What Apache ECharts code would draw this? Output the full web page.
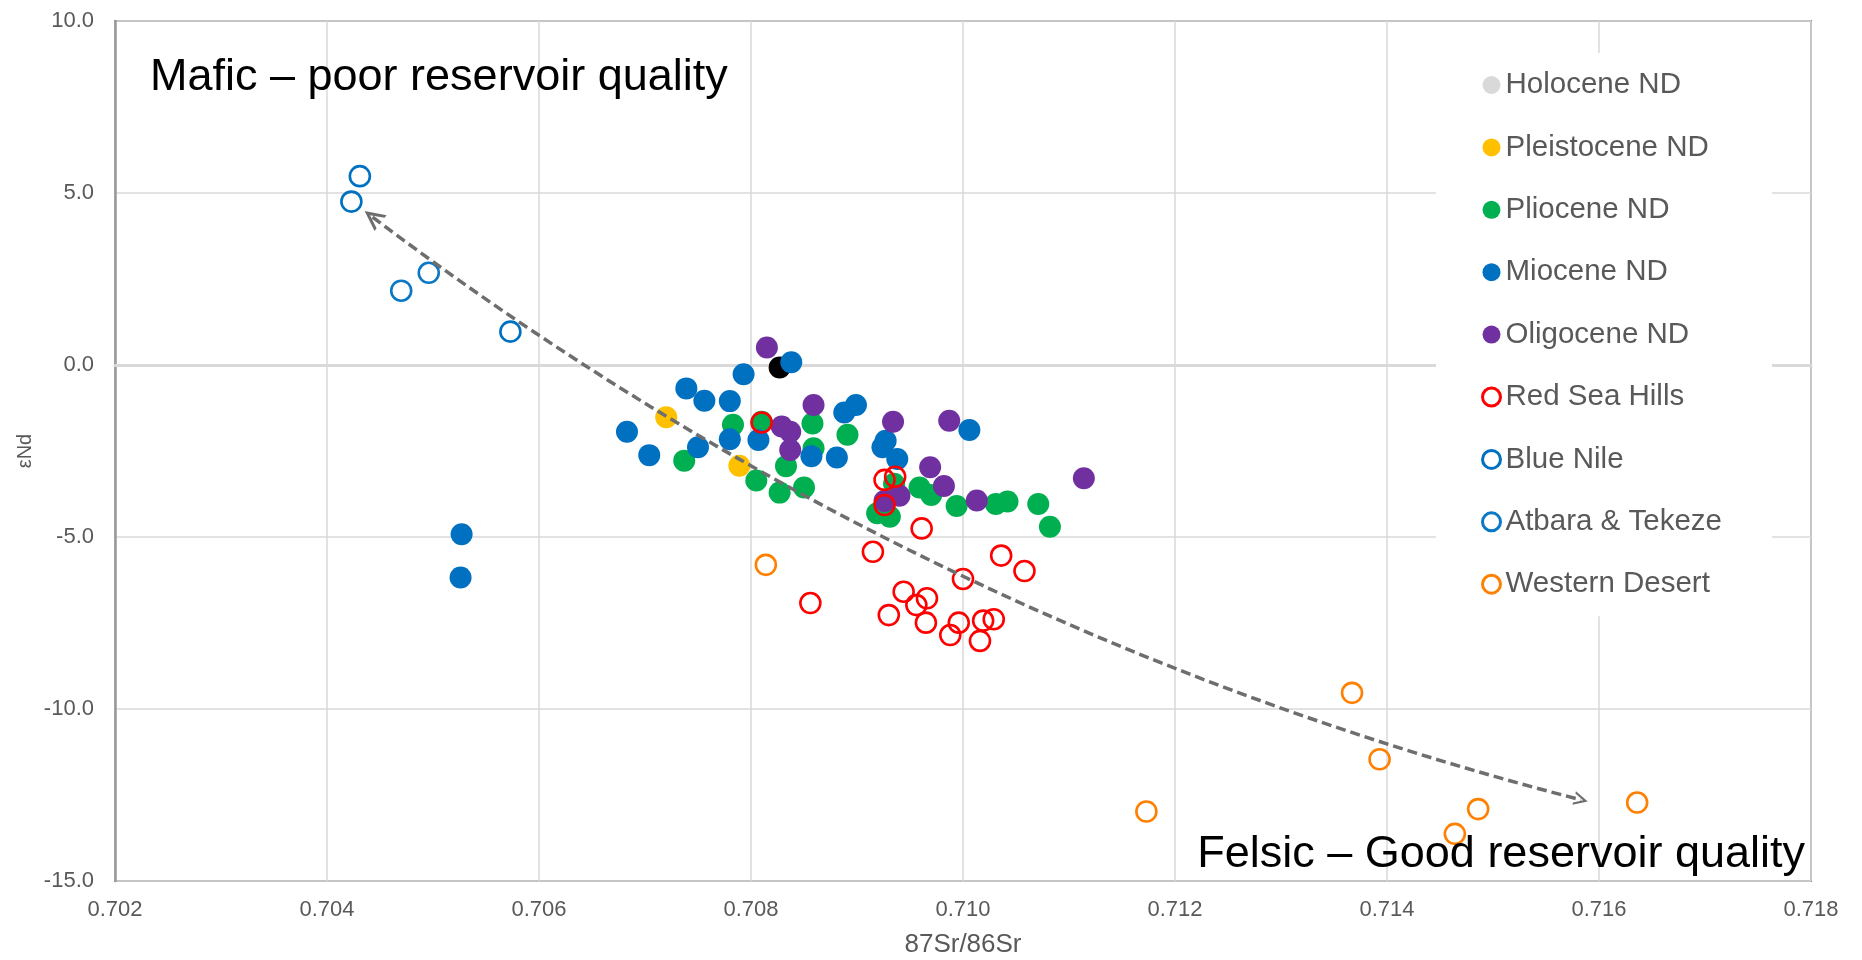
<!DOCTYPE html>
<html>
<head>
<meta charset="utf-8">
<script src="https://cdn.jsdelivr.net/npm/echarts@6/dist/echarts.min.js"></script>
<style>
html,body{margin:0;padding:0;background:#ffffff;}
#chart{width:1862px;height:960px;}
</style>
</head>
<body>
<div id="chart"></div>
<script>
// ---- tick labels ----
const xTickLabels = ['0.702','0.704','0.706','0.708','0.710','0.712','0.714','0.716','0.718'];
const yTickLabels = ['-15.0','-10.0','-5.0','0.0','5.0','10.0'];

// ---- series names ----
const seriesNames = ['Holocene ND','Pleistocene ND','Pliocene ND','Miocene ND','Oligocene ND','Red Sea Hills','Blue Nile','Atbara & Tekeze','Western Desert'];

// ---- data: [87Sr/86Sr, eNd] ----
const holoceneND = [[0.70827,-0.07]];
const pleistoceneND = [[0.70720,-1.52],[0.70789,-2.93]];
const plioceneND = [
  [0.70810,-1.65],[0.70783,-1.74],[0.70737,-2.78],[0.70805,-3.36],[0.70827,-3.71],
  [0.70850,-3.56],[0.70833,-2.94],[0.70858,-1.70],[0.70859,-2.42],[0.70891,-2.03],
  [0.70959,-3.56],[0.70970,-3.78],[0.70994,-4.10],[0.71031,-4.04],[0.71042,-3.97],
  [0.71071,-4.04],[0.71082,-4.70],[0.70919,-4.31],[0.70931,-4.41],[0.70935,-3.45]
];
const mioceneND = [
  [0.70838,0.08],[0.70793,-0.27],[0.70739,-0.68],[0.70756,-1.04],[0.70780,-1.05],
  [0.70683,-1.94],[0.70704,-2.62],[0.70750,-2.39],[0.70780,-2.16],[0.70807,-2.18],
  [0.70857,-2.65],[0.70881,-2.69],[0.70888,-1.38],[0.70899,-1.16],[0.70927,-2.20],
  [0.70924,-2.39],[0.70938,-2.73],[0.71006,-1.89],[0.70527,-4.92],[0.70526,-6.18]
];
const oligoceneND = [
  [0.70815,0.51],[0.70829,-1.79],[0.70837,-1.94],[0.70837,-2.47],[0.70859,-1.16],
  [0.70934,-1.65],[0.70987,-1.62],[0.70969,-2.97],[0.70982,-3.52],[0.71013,-3.94],
  [0.71114,-3.29],[0.70926,-3.95],[0.70940,-3.80]
];
const redSeaHills = [
  [0.70810,-1.67],[0.70926,-3.34],[0.70936,-3.25],[0.70926,-4.07],[0.70961,-4.75],
  [0.70915,-5.43],[0.71000,-6.22],[0.71036,-5.54],[0.71058,-5.99],[0.70944,-6.59],
  [0.70966,-6.78],[0.70956,-6.98],[0.70930,-7.27],[0.70965,-7.49],[0.70996,-7.49],
  [0.70988,-7.85],[0.71019,-7.43],[0.71029,-7.39],[0.71016,-8.02],[0.70856,-6.92]
];
const blueNile = [[0.70431,5.49],[0.70423,4.75],[0.70573,0.97]];
const atbaraTekeze = [[0.70496,2.68],[0.70470,2.16]];
const westernDesert = [
  [0.70814,-5.81],[0.71367,-9.53],[0.71393,-11.46],[0.71173,-12.98],
  [0.71636,-12.72],[0.71486,-12.91],[0.71464,-13.63]
];

// ---- trend arrow (start, end) ----
const trendArrow = [[0.70443,4.30],[0.71583,-12.64]];

// ---- annotation texts ----
const mafic = 'Mafic \u2013 poor reservoir quality';
const felsic = 'Felsic \u2013 Good reservoir quality';

const allData = [holoceneND, pleistoceneND, plioceneND, mioceneND, oligoceneND, redSeaHills, blueNile, atbaraTekeze, westernDesert];
const colors = ['#000000','#FFC000','#00B050','#0070C0','#7030A0','#FF0000','#0070C0','#0A78C4','#FF8000'];
const hollow = [false,false,false,false,false,true,true,true,true];
const legendColors = ['#D9D9D9','#FFC000','#00B050','#0070C0','#7030A0','#FF0000','#0070C0','#0A78C4','#FF8000'];

const FONT = '"Liberation Sans", Arial, sans-serif';
const xMin = parseFloat(xTickLabels[0]), xMax = parseFloat(xTickLabels[xTickLabels.length-1]);
const yMin = parseFloat(yTickLabels[0]), yMax = parseFloat(yTickLabels[yTickLabels.length-1]);

const scatterSeries = seriesNames.map((name, i) => ({
  name: name,
  type: 'scatter',
  data: allData[i],
  symbol: 'circle',
  symbolSize: hollow[i] ? 20 : 22,
  itemStyle: hollow[i]
    ? { color: 'rgba(255,255,255,0)', borderColor: colors[i], borderWidth: 2.6, opacity: 1 }
    : { color: colors[i], opacity: 1 },
  emphasis: { disabled: true },
  z: 2 + i
}));

const chevron = 'path://M0,14 L10,0 L20,14 L16.6,14 L10,4.8 L3.4,14 Z';

const option = {
  animation: false,
  backgroundColor: '#ffffff',
  grid: { left: 115, right: 51, top: 21, bottom: 79, show: true, borderColor: '#8C8C8C', borderWidth: 2, backgroundColor: 'transparent', containLabel: false, outerBoundsMode: 'none' },
  xAxis: {
    type: 'value', min: xMin, max: xMax, interval: 0.002,
    name: '87Sr/86Sr', nameLocation: 'middle', nameGap: 51, nameMoveOverlap: false,
    nameTextStyle: { color: '#595959', fontSize: 26, fontFamily: FONT },
    axisLine: { show: true, lineStyle: { color: '#D9D9D9', width: 3 } },
    axisTick: { show: false },
    axisLabel: { color: '#595959', fontSize: 22, fontFamily: FONT, margin: 18, formatter: v => v.toFixed(3) },
    splitLine: { show: true, lineStyle: { color: '#D9D9D9', width: 1.5 } }
  },
  yAxis: {
    type: 'value', min: yMin, max: yMax, interval: 5,
    name: '\u03b5Nd', nameLocation: 'middle', nameGap: 80, nameRotate: 90, nameMoveOverlap: false,
    nameTextStyle: { color: '#595959', fontSize: 20, fontFamily: FONT },
    axisLine: { show: true, lineStyle: { color: '#999999', width: 2.5 } },
    axisTick: { show: false },
    axisLabel: { color: '#595959', fontSize: 22, fontFamily: FONT, margin: 21, formatter: v => v.toFixed(1) },
    splitLine: { show: true, lineStyle: { color: '#D9D9D9', width: 1.5 } }
  },
  legend: {
    orient: 'vertical', left: 1436, top: 53,
    backgroundColor: '#ffffff',
    padding: [17, 50, 17, 45],
    itemGap: 32.4, itemWidth: 18, itemHeight: 18,
    icon: 'circle',
    textStyle: { color: '#595959', fontSize: 29.5, fontFamily: FONT, lineHeight: 30 },
    data: seriesNames.map((n, i) => ({
      name: n,
      itemStyle: hollow[i]
        ? { color: '#ffffff', borderColor: legendColors[i], borderWidth: 3 }
        : { color: legendColors[i], borderWidth: 0 }
    })),
    selectedMode: false,
    z: 20
  },
  graphic: [
    { type: 'text', left: 150, top: 55, z: 30, silent: true,
      style: { text: mafic, fill: '#000000', font: '45px ' + FONT } },
    { type: 'text', right: 57, top: 832, z: 30, silent: true,
      style: { text: felsic, fill: '#000000', font: '45px ' + FONT } }
  ],
  series: scatterSeries.concat([{
    type: 'lines',
    coordinateSystem: 'cartesian2d',
    silent: true,
    z: 15,
    symbol: [chevron, chevron],
    symbolSize: [20, 14],
    lineStyle: { color: '#6E6E6E', width: 3.5, type: [10, 5], curveness: -0.1, opacity: 1 },
    data: [{ coords: trendArrow }]
  }])
};

const chart = echarts.init(document.getElementById('chart'), null, { renderer: 'canvas' });
chart.setOption(option);
</script>
</body>
</html>
